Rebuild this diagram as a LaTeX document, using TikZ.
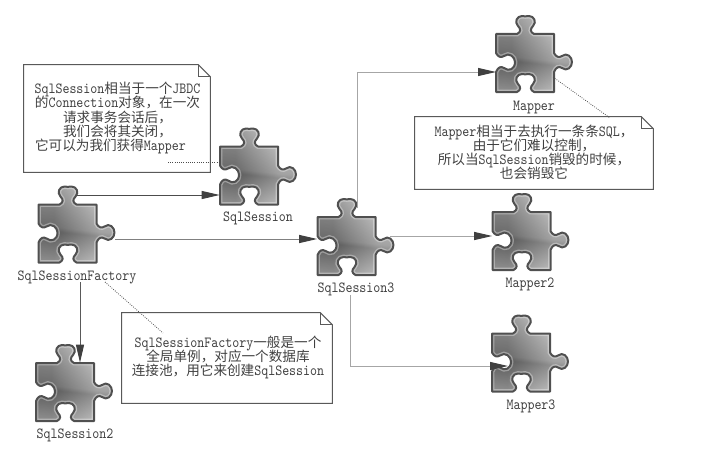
\documentclass[tikz,border=0pt]{standalone}
\usepackage{fontspec}
\usetikzlibrary{arrows.meta}
\setmonofont[FakeStretch=.86]{Latin Modern Mono}
\newfontfamily\cjk[Scale=.88]{Noto Sans CJK SC}
\newcommand{\zh}[1]{{\cjk #1}}
\newcommand{\labelfont}{\ttfamily\fontsize{11}{10}\selectfont\setlength{\lineskiplimit}{-20pt}}
\definecolor{puzzledark}{HTML}{505050}
\pgfdeclareverticalshading{puzzlefill}{100bp}{
	color(0bp)=(black!18); color(25bp)=(black!30); color(44bp)=(black!55);
	color(47bp)=(black!46); color(60bp)=(black!36); color(75bp)=(black!22); color(100bp)=(black!15)}
\pgfdeclarehorizontalshading{puzzleside}{100bp}{
	color(0bp)=(black); color(35bp)=(black); color(65bp)=(white); color(100bp)=(white)}
\newcommand{\puzzlepath}{(-29,-29) -- (-8,-29) .. controls (-4,-31) and (-4,-34) .. (-7,-37)
	.. controls (-11,-41) and (-8,-47) .. (-3,-47) .. controls (-1,-47) and (1,-46) .. (4,-47)
	.. controls (9,-47) and (12,-41) .. (8,-37) .. controls (5,-34) and (5,-31) .. (9,-29)
	-- (29,-29) -- (29,-10) .. controls (31,-6) and (34,-5) .. (37,-7)
	.. controls (42,-11) and (47,-6) .. (47,-1) .. controls (47,4) and (42,9) .. (37,5)
	.. controls (34,3) and (31,4) .. (29,9) -- (29,29) -- (9,29)
	.. controls (5,27) and (5,24) .. (8,21) .. controls (12,17) and (9,11) .. (4,11)
	.. controls (1,11) and (-1,12) .. (-3,11) .. controls (-8,11) and (-11,17) .. (-7,21)
	.. controls (-4,24) and (-4,27) .. (-8,29) -- (-29,29) -- (-29,9)
	.. controls (-27,4) and (-24,3) .. (-21,5) .. controls (-16,9) and (-10,6) .. (-10,-1)
	.. controls (-10,-6) and (-16,-11) .. (-21,-7) .. controls (-24,-5) and (-27,-6) .. (-29,-10) -- cycle}
\newcommand{\notefold}[1]{
	\draw[noteline] (#1.south west) -- (#1.north west) -- ([xshift=-3mm]#1.north east)
		-- ([yshift=-3mm]#1.north east) -- (#1.south east) -- cycle;
	\draw[noteline] ([xshift=-3mm]#1.north east) -- ([xshift=-3mm,yshift=-3mm]#1.north east) -- ([yshift=-3mm]#1.north east);
}
\begin{document}
\begin{tikzpicture}
	[x=.25mm,y=-.25mm,
	piece/.style={rectangle,draw=none,minimum size=14.5mm,inner sep=0pt},
	plain/.style={draw=none,fill=none,text=black!75,inner sep=0pt,font=\labelfont},
	notetext/.style={plain,align=center},
	notebox/.style={rectangle,draw=none,inner sep=0pt},
	noteline/.style={draw=black!65,line width=.25mm,line join=miter},
	flow/.style={-{Triangle[length=4.5mm,width=2mm,color=black!75,fill=black!75]},line width=.25mm},
	hint/.style={densely dotted,draw=black!70,line width=.2mm},
	puzzle/.pic={
		\begin{scope}
			\clip \puzzlepath;
			\shade[shading=puzzlefill,shading angle=-6] \puzzlepath;
			\shade[shading=puzzleside,opacity=.22] \puzzlepath;
			\draw[white,opacity=.35,line width=1.2mm] \puzzlepath;
		\end{scope}
		\draw[puzzledark,line width=.5mm,line join=round] \puzzlepath;
	}
	]
	\useasboundingbox (0,0) rectangle (706,457);

	\node[notebox,minimum width=46.5mm,minimum height=26.75mm] (note1) at (117,118.5){};
	\node[notebox,minimum width=59.5mm,minimum height=18mm] (note2) at (534,153){};
	\node[notebox,minimum width=52.5mm,minimum height=22.5mm] (note3) at (227,358){};
	\notefold{note1}
	\notefold{note2}
	\notefold{note3}

	\node[piece] (session) at (249,175.5){};
	\node[piece] (factory) at (67.5,233.5){};
	\node[piece] (session2) at (65,392){};
	\node[piece] (session3) at (346.5,246){};
	\node[piece] (mapper) at (525,63){};
	\node[piece] (mapper2) at (521.5,241){};
	\node[piece] (mapper3) at (521,362.5){};
	\pic at (session) {puzzle};
	\pic at (factory) {puzzle};
	\pic at (session2) {puzzle};
	\pic at (session3) {puzzle};
	\pic at (mapper) {puzzle};
	\pic at (mapper2) {puzzle};
	\pic at (mapper3) {puzzle};

	\node[plain] (sessionlabel) at (258,218){SqlSession};
	\node[plain] (factorylabel) at (77,277){SqlSessionFactory};
	\node[plain] (session2label) at (75,435){SqlSession2};
	\node[plain] (session3label) at (356,289){SqlSession3};
	\node[plain] (mapperlabel) at (534,107){Mapper};
	\node[plain] (mapper2label) at (530,284){Mapper2};
	\node[plain] (mapper3label) at (531,406){Mapper3};

	\node[notetext] (note1text) at (117.5,118){SqlSession\zh{相当于一个}JBDC\\
		\zh{的}Connection\zh{对象，在一次}\\
		\zh{请求事务会话后，}\\
		\zh{我们会将其关闭，}\\
		\zh{它可以为我们获得}Mapper\hspace*{10pt}};
	\node[notetext] (note2text) at (534,152.5){Mapper\zh{相当于去执行一条条}SQL\zh{，}\\
		\zh{由于它们难以控制，}\\
		\zh{所以当}SqlSession\zh{销毁的时候，}\\
		\zh{也会销毁它}};
	\node[notetext] (note3text) at (228,357.5){SqlSessionFactory\zh{一般是一个}\\
		\zh{全局单例，对应一个数据库}\\
		\zh{连接池，用它来创建}SqlSession};

	\coordinate (factorytop) at (77,195);
	\coordinate (factoryright) at (115,239);
	\coordinate (factorybottom) at (80,282);
	\coordinate (session3top) at (357,208);
	\coordinate (session3right) at (390,236);
	\coordinate (session3bottom) at (350,295);
	\coordinate (mapperin) at (496,72);
	\coordinate (mapper3in) at (508,366);
	\draw[flow,black!70] (factorytop) -- (session.west |- factorytop);
	\draw[flow,black!50] (factoryright) -- (session3.west |- factoryright);
	\draw[flow,black!65] (factorybottom) -- (factorybottom |- session2.north);
	\draw[flow,black!35] (session3top) |- (mapperin);
	\draw[flow,black!35] (session3right) -- (mapper2.west |- session3right);
	\draw[flow,black!35] (session3bottom) |- (mapper3in);

	\coordinate (note1end) at (168,162);
	\coordinate (note2end) at (610,118);
	\coordinate (note3end) at (163,333);
	\coordinate (mappercorner) at (553,77);
	\coordinate (factorycorner) at (105,282);
	\draw[hint] (note1end) -- (session.west |- note1end);
	\draw[hint] (mappercorner) -- (note2end);
	\draw[hint] (factorycorner) -- (note3end);
\end{tikzpicture}
\end{document}
